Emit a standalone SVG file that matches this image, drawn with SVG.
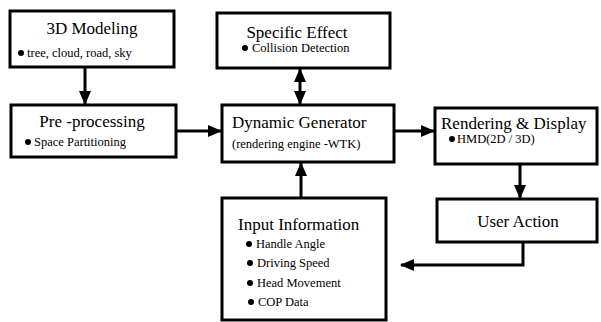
<svg xmlns="http://www.w3.org/2000/svg" width="601" height="322" viewBox="0 0 601 322">
<defs>
<marker id="ah" markerWidth="14" markerHeight="14" refX="13" refY="7" orient="auto" markerUnits="userSpaceOnUse" viewBox="0 0 14 14">
<path d="M0,1 L14,7 L0,13 z" fill="#000"/>
</marker>
<marker id="ahs" markerWidth="14" markerHeight="14" refX="1" refY="7" orient="auto" markerUnits="userSpaceOnUse" viewBox="0 0 14 14">
<path d="M14,1 L0,7 L14,13 z" fill="#000"/>
</marker>
<style>
.box{fill:#fff;stroke:#000;stroke-width:3}
text{font-family:'Liberation Serif','Times New Roman',Times,serif}
.t{font-size:17px;fill:#000}
.s{font-size:12.5px;fill:#000}
.c{stroke:#000;stroke-width:3;fill:none;marker-end:url(#ah)}
</style>
</defs>
<rect width="601" height="322" fill="#fff"/>
<g id="connectors">
<line class="c" x1="85" y1="67" x2="85" y2="104"/>
<line class="c" x1="176" y1="131" x2="221" y2="131"/>
<line class="c" x1="300" y1="69" x2="300" y2="104" marker-start="url(#ahs)"/>
<line class="c" x1="301" y1="197" x2="301" y2="163"/>
<line class="c" x1="394" y1="131" x2="434" y2="131"/>
<line class="c" x1="520" y1="164" x2="520" y2="198"/>
<polyline class="c" points="523,242 523,265 401,265"/>
</g>
<g id="modeling">
<rect class="box" x="10" y="11" width="164" height="56"/>
<text class="t" x="92" y="34" text-anchor="middle">3D Modeling</text>
<circle cx="21" cy="53" r="3"/>
<text class="s" x="27" y="57">tree, cloud, road, sky</text>
</g>
<g id="preprocessing">
<rect class="box" x="11" y="105" width="165" height="52"/>
<text class="t" x="92" y="127" text-anchor="middle">Pre -processing</text>
<circle cx="28" cy="142" r="3"/>
<text class="s" x="34" y="146">Space Partitioning</text>
</g>
<g id="specific">
<rect class="box" x="217" y="13" width="173" height="55"/>
<text class="t" x="297" y="38" text-anchor="middle">Specific Effect</text>
<circle cx="245" cy="48" r="3"/>
<text class="s" x="252" y="52">Collision Detection</text>
</g>
<g id="dynamic">
<rect class="box" x="222" y="105" width="172" height="57"/>
<text class="t" x="232" y="128">Dynamic Generator</text>
<text class="s" x="232" y="148">(rendering engine  -WTK)</text>
</g>
<g id="rendering">
<rect class="box" x="435" y="108" width="162" height="56"/>
<text class="t" x="441" y="129">Rendering &amp; Display</text>
<circle cx="452" cy="139" r="3"/>
<text class="s" x="457" y="143">HMD(2D / 3D)</text>
</g>
<g id="useraction">
<rect class="box" x="437" y="199" width="160" height="43"/>
<text class="t" x="518" y="227" text-anchor="middle">User Action</text>
</g>
<g id="input">
<rect class="box" x="222" y="198" width="164" height="122"/>
<text class="t" x="238" y="230">Input Information</text>
<circle cx="249" cy="244" r="3"/>
<text class="s" x="256" y="248">Handle Angle</text>
<circle cx="250" cy="263" r="3"/>
<text class="s" x="257" y="267">Driving Speed</text>
<circle cx="250" cy="283" r="3"/>
<text class="s" x="257" y="287">Head Movement</text>
<circle cx="251" cy="302" r="3"/>
<text class="s" x="258" y="306">COP Data</text>
</g>
</svg>
